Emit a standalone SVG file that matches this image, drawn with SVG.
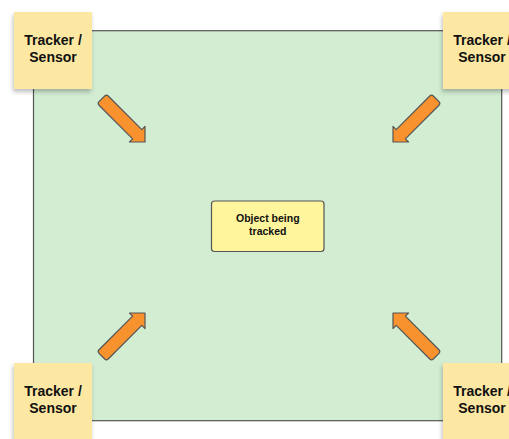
<svg xmlns="http://www.w3.org/2000/svg" width="509" height="439" viewBox="0 0 509 439">
  <defs>
    <filter id="shadow" x="-20%" y="-20%" width="150%" height="150%">
      <feDropShadow dx="-1" dy="3" stdDeviation="2" flood-color="#000" flood-opacity="0.25"/>
    </filter>
    <path id="arr" d="M0,0 L-11,-11 L-11,-6.5 L-58.5,-6.5 Q-61,-6.5 -61,-4 L-61,4 Q-61,6.5 -58.5,6.5 L-11,6.5 L-11,11 Z"/>
  </defs>
  <style>
    .area { fill: #d2edd2; stroke: #555; stroke-width: 1.2; }
    .note { fill: #fde8a3; filter: url(#shadow); }
    .notetxt { font-family: "Liberation Sans", Arial, sans-serif; font-weight: bold; font-size: 14px; fill: #111; text-anchor: middle; }
    .obj { fill: #fef59c; stroke: #555; stroke-width: 1.2; }
    .objtxt { font-family: "Liberation Sans", Arial, sans-serif; font-weight: bold; font-size: 10.5px; fill: #111; text-anchor: middle; }
    .arrow { fill: #f7922f; stroke: #555; stroke-width: 1.2; stroke-linejoin: round; }
  </style>
  <rect class="area" x="33.5" y="30.7" width="468.2" height="390"/>
  <g id="connectors">
    <use href="#arr" class="arrow" transform="translate(145,142) rotate(45)"/>
    <use href="#arr" class="arrow" transform="translate(393,142) rotate(135)"/>
    <use href="#arr" class="arrow" transform="translate(145,313) rotate(-45)"/>
    <use href="#arr" class="arrow" transform="translate(393,313) rotate(-135)"/>
  </g>
  <g id="object">
    <rect class="obj" x="211.5" y="201" width="112.5" height="50.5" rx="3"/>
    <text class="objtxt" x="267.8" y="221.5">Object being</text>
    <text class="objtxt" x="267.8" y="235">tracked</text>
  </g>
  <g id="sensor-tl">
    <rect class="note" x="14" y="12" width="78" height="77"/>
    <text class="notetxt" x="53" y="45">Tracker /</text>
    <text class="notetxt" x="53" y="62">Sensor</text>
  </g>
  <g id="sensor-tr">
    <rect class="note" x="443" y="12" width="78" height="77"/>
    <text class="notetxt" x="482" y="45">Tracker /</text>
    <text class="notetxt" x="482" y="62">Sensor</text>
  </g>
  <g id="sensor-bl">
    <rect class="note" x="14" y="363" width="78" height="77"/>
    <text class="notetxt" x="53" y="396">Tracker /</text>
    <text class="notetxt" x="53" y="413">Sensor</text>
  </g>
  <g id="sensor-br">
    <rect class="note" x="443" y="363" width="78" height="77"/>
    <text class="notetxt" x="482" y="396">Tracker /</text>
    <text class="notetxt" x="482" y="413">Sensor</text>
  </g>
</svg>
